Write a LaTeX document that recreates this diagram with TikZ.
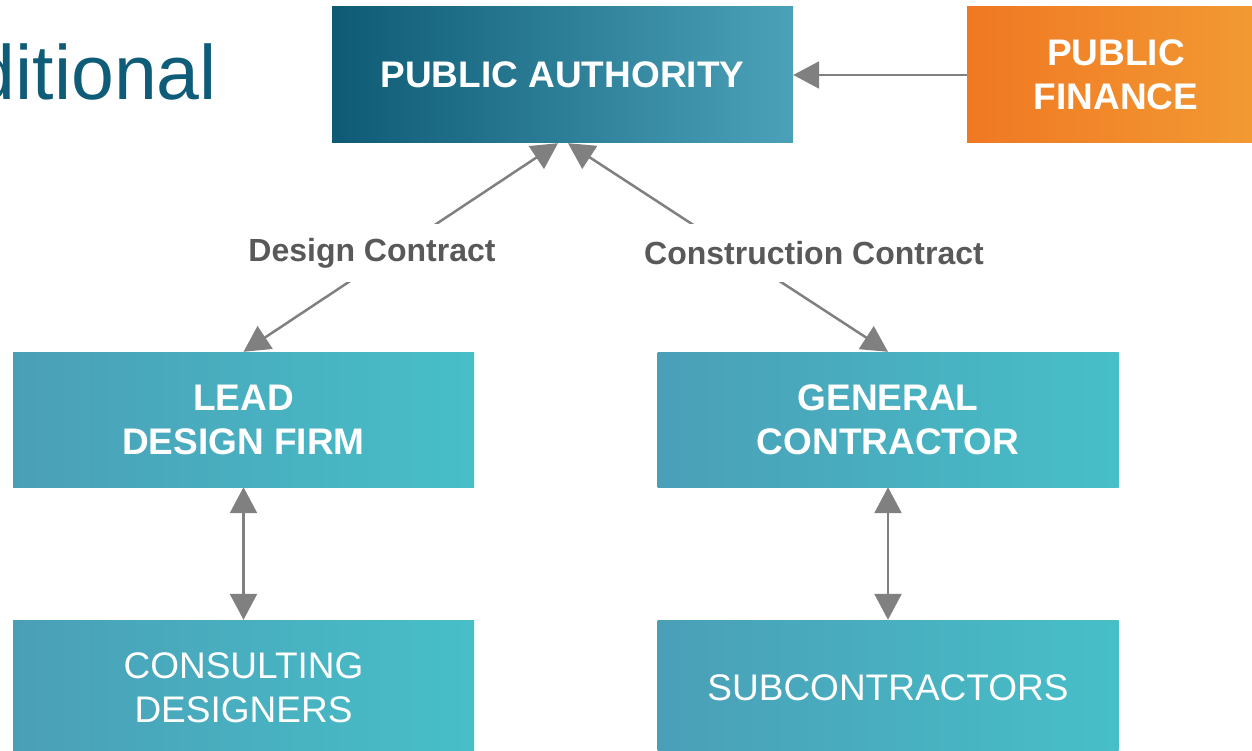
\documentclass[tikz,border=0pt]{standalone}
\usepackage{fontspec}
\setmainfont{Liberation Sans}
\usetikzlibrary{arrows.meta}
\definecolor{authL}{HTML}{0E5A75}
\definecolor{authR}{HTML}{4BA2B8}
\definecolor{finL}{HTML}{F07823}
\definecolor{finR}{HTML}{F29B33}
\definecolor{boxL}{HTML}{4A9FB7}
\definecolor{boxR}{HTML}{47BFC8}
\definecolor{arrgray}{HTML}{808080}
\definecolor{labgray}{HTML}{595959}
\definecolor{titleblue}{HTML}{0F5C78}
\tikzset{
  box/.style={rectangle, minimum width=461pt, minimum height=136pt, inner sep=0pt,
    text=white, align=center, font=\fontsize{37}{44}\selectfont\bfseries,
    left color=boxL, right color=boxR, draw=none},
  regbox/.style={box, font=\fontsize{37}{44}\selectfont},
  arr/.style={draw=arrgray, line width=2.5pt, -{Triangle[length=26pt,width=27pt]}},
  darr/.style={draw=arrgray, line width=2.5pt, {Triangle[length=26pt,width=27pt]}-{Triangle[length=26pt,width=27pt]}},
  contractlabel/.style={fill=white, text=labgray, font=\fontsize{32}{38}\selectfont\bfseries,
    minimum height=58pt, inner xsep=3pt}
}
\begin{document}
\begin{tikzpicture}[x=1pt,y=-1pt]
\useasboundingbox (0,0) rectangle (1252,751);
\clip (0,0) rectangle (1252,751);
\node[anchor=base east, text=titleblue, font=\fontsize{77}{90}\selectfont, inner sep=0pt] (title) at (217,100) {ditional};
\node[box, left color=authL, right color=authR] (auth) at (562.5,75) {PUBLIC AUTHORITY};
\node[box, minimum width=298pt, left color=finL, right color=finR] (fin) at (1116,75) {PUBLIC\\FINANCE};
\node[box, minimum height=135pt] (lead) at (243.5,419.5) {LEAD\\DESIGN FIRM};
\node[box, minimum height=135pt] (gc) at (888,419.5) {GENERAL\\CONTRACTOR};
\node[regbox] (cons) at (243.5,688) {CONSULTING\\DESIGNERS};
\node[regbox] (sub) at (888,688) {SUBCONTRACTORS};
\draw[arr] (fin.west) -- (auth.east);
\draw[darr] (lead.north) -- ([xshift=-4.5pt]auth.south);
\draw[darr] (gc.north) -- ([xshift=5.5pt]auth.south);
\draw[darr] (lead.south) -- (cons.north);
\draw[darr] (gc.south) -- (sub.north);
\node[contractlabel] (dc) at (372,253) {Design Contract};
\node[contractlabel] (cc) at (814,253) {Construction Contract};
\end{tikzpicture}
\end{document}
